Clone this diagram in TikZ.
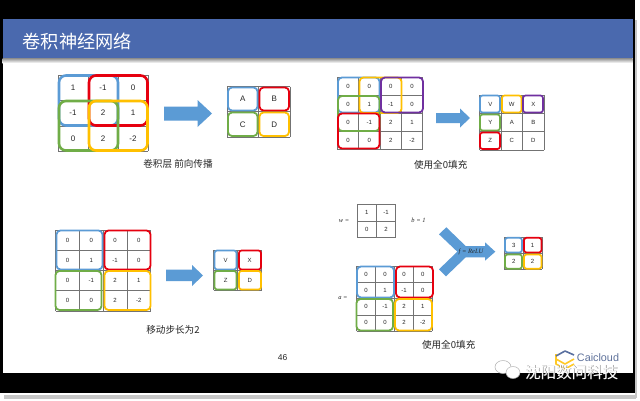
\documentclass[tikz,border=0pt]{standalone}
\usepackage{fontspec}
\setmainfont{Liberation Sans}
\newfontfamily\cjk{Noto Sans CJK SC}
\newfontfamily\mathish{Liberation Serif}
\definecolor{mblue}{HTML}{5B9BD5}
\definecolor{mred}{HTML}{E6000F}
\definecolor{mgreen}{HTML}{70AD47}
\definecolor{myellow}{HTML}{FFC000}
\definecolor{mpurple}{HTML}{7030A0}
\definecolor{bar}{HTML}{4A69AE}
\definecolor{txt}{HTML}{262626}
\tikzset{
  gridline/.style={draw=black!55,line width=0.5pt},
  bigframe/.style={line width=2.6pt,rounded corners=7pt},
  midframe/.style={line width=1.8pt,rounded corners=4pt},
  smallframe/.style={line width=1.7pt,rounded corners=2.5pt},
  fatarrow/.style={fill=mblue,draw=none},
  cellA/.style={font=\fontsize{8}{8}\selectfont,text=txt,inner sep=0pt},
  cellB/.style={font=\fontsize{6}{6}\selectfont,text=txt,inner sep=0pt},
  caption/.style={font=\cjk\fontsize{9.6}{10}\selectfont,text=txt,inner sep=0pt},
  formula/.style={font=\mathish\itshape\fontsize{6.5}{7}\selectfont,text=txt,inner sep=0pt},
}
% \gridlines{x0}{y0}{cell w}{cell h}{cols}{rows}
\newcommand{\gridlines}[6]{%
  \foreach \ci in {0,...,#5} \draw[gridline] ({#1+\ci*#3},#2) -- ({#1+\ci*#3},{#2+#6*#4});
  \foreach \ri in {0,...,#6} \draw[gridline] (#1,{#2+\ri*#4}) -- ({#1+#5*#3},{#2+\ri*#4});
}
% \cellvals{style}{x0}{y0}{w}{h}{col/row/text list}
\newcommand{\cellvals}[6]{%
  \foreach \cc/\rr/\tt in {#6} \node[#1] at ({#2+(\cc+0.5)*#4},{#3+(\rr+0.5)*#5}) {\tt};
}
\begin{document}
\begin{tikzpicture}[x=1pt,y=-1pt]
\useasboundingbox (0,0) rectangle (640,400);
% slide and surround
\fill[white] (0,0) rectangle (640,400);
\fill[black] (0,0) rectangle (634.5,19);
\fill[black] (0,19) rectangle (2.5,393);
\fill[black] (632.5,19) rectangle (634.5,393);
\fill[black] (0,373) rectangle (634.5,393);
\fill[black!22] (4,395) rectangle (636,398.5);
\fill[black!22] (635,20) rectangle (636.5,398);
\fill[bar] (2.5,19) rectangle (632.5,58);
\shade[top color=black!45,bottom color=white] (2.5,58) rectangle (632.5,63);
\node[anchor=west,inner sep=0pt,text=white,font=\cjk\fontsize{18.2}{18}\selectfont] (title) at (22.5,41) {卷积神经网络};

% --- panel 1
\gridlines{58}{75}{30}{25.4}{3}{3}
\cellvals{cellA}{58}{75}{30}{25.4}{0/0/1,1/0/-1,2/0/0,0/1/-1,1/1/2,2/1/1,0/2/0,1/2/2,2/2/-2}
\draw[bigframe,draw=mblue] (59,75.5) rectangle (118,125.5);
\draw[bigframe,draw=mred] (89,75.5) rectangle (147.5,125.5);
\draw[bigframe,draw=mgreen] (59,101) rectangle (118,150.5);
\draw[bigframe,draw=myellow] (89,101) rectangle (147.5,150.5);
\fill[fatarrow] (164,106.5) -- (197.5,106.5) -- (197.5,100) -- (212,113.5) -- (197.5,127) -- (197.5,120.5) -- (164,120.5) -- cycle;
\gridlines{227}{86.5}{31.5}{25.2}{2}{2}
\cellvals{cellA}{227}{86.5}{31.5}{25.2}{0/0/A,1/0/B,0/1/C,1/1/D}
\draw[midframe,draw=mblue] (228,87.5) rectangle (257.5,110.5);
\draw[midframe,draw=mred] (259.5,87.5) rectangle (289,110.5);
\draw[midframe,draw=mgreen] (228,112.5) rectangle (257.5,136);
\draw[midframe,draw=myellow] (259.5,112.5) rectangle (289,136);
\node[caption] (cap1) at (178,164) {卷积层 前向传播};

% --- panel 2
\gridlines{337.3}{77}{21.35}{18}{4}{4}
\cellvals{cellB}{337.3}{77}{21.35}{18}{0/0/0,1/0/0,2/0/0,3/0/0,0/1/0,1/1/1,2/1/-1,3/1/0,0/2/0,1/2/-1,2/2/2,3/2/1,0/3/0,1/3/0,2/3/2,3/3/-2}
\draw[midframe,draw=mblue] (338,77.5) rectangle (379.5,112.5);
\draw[midframe,draw=myellow] (359.5,77.5) rectangle (401.5,113);
\draw[midframe,draw=mgreen] (338,96) rectangle (379.5,131);
\draw[midframe,draw=mpurple] (381,77.5) rectangle (423,112.5);
\draw[midframe,draw=mred] (338,113.5) rectangle (379.5,148.5);
\fill[fatarrow] (436,113) -- (460,113) -- (460,108.5) -- (470,118) -- (460,127.5) -- (460,123) -- (436,123) -- cycle;
\gridlines{479.5}{95}{21.5}{18.35}{3}{3}
\cellvals{cellB}{479.5}{95}{21.5}{18.35}{0/0/V,1/0/W,2/0/X,0/1/Y,1/1/A,2/1/B,0/2/Z,1/2/C,2/2/D}
\draw[smallframe,draw=mblue] (480,95.5) rectangle (500,112.5);
\draw[smallframe,draw=myellow] (502,95.5) rectangle (521.5,112.5);
\draw[smallframe,draw=mpurple] (523,95.5) rectangle (543,112.5);
\draw[smallframe,draw=mgreen] (480,114.5) rectangle (500,130.5);
\draw[smallframe,draw=mred] (480,132.5) rectangle (500,149);
\node[caption] (cap2) at (440.7,164.5) {使用全0填充};

% --- panel 3
\gridlines{55.7}{230}{23.75}{20.2}{4}{4}
\cellvals{cellB}{55.7}{230}{23.75}{20.2}{0/0/0,1/0/0,2/0/0,3/0/0,0/1/0,1/1/1,2/1/-1,3/1/0,0/2/0,1/2/-1,2/2/2,3/2/1,0/3/0,1/3/0,2/3/2,3/3/-2}
\draw[midframe,draw=mblue] (56.5,230.5) rectangle (102.5,269.5);
\draw[midframe,draw=mred] (104.5,230.5) rectangle (150.5,269.5);
\draw[midframe,draw=mgreen] (55.5,271) rectangle (101.5,310);
\draw[midframe,draw=myellow] (104.5,271) rectangle (150.5,310);
\fill[fatarrow] (166,269.7) -- (192,269.7) -- (192,265) -- (203,275.5) -- (192,286) -- (192,281) -- (166,281) -- cycle;
\gridlines{213.7}{250}{24}{20}{2}{2}
\cellvals{cellB}{213.7}{250}{24}{20}{0/0/V,1/0/X,0/1/Z,1/1/D}
\draw[smallframe,draw=mblue] (214.5,250.5) rectangle (236.5,269.5);
\draw[smallframe,draw=mred] (239,250.5) rectangle (261,269.5);
\draw[smallframe,draw=mgreen] (214.5,271) rectangle (236.5,289.5);
\draw[smallframe,draw=myellow] (239,271) rectangle (261,289.5);
\node[caption] (cap3) at (173,330) {移动步长为2};
\node[inner sep=0pt,text=txt,font=\fontsize{8.5}{9}\selectfont] (page) at (282.5,358) {46};

% --- panel 4
\node[formula] (wlab) at (344,221) {w =};
\gridlines{357.3}{204.7}{19.2}{16.3}{2}{2}
\cellvals{cellB}{357.3}{204.7}{19.2}{16.3}{0/0/1,1/0/-1,0/1/0,1/1/2}
\node[formula] (blab) at (418.5,220.5) {b = 1};
\fill[fatarrow] (439,234.3) -- (446.3,227.3) -- (465.7,246) -- (485,246) -- (485,242.3) -- (495.3,251.7) -- (485,260.7) -- (485,257.3) -- (465.7,257.3) -- (446,276.3) -- (439,269.3) -- (457.3,251.7) -- cycle;
\node[formula] (relu) at (471,252) {f = ReLU};
\node[formula] (alab) at (343,298) {a =};
\gridlines{356.7}{266}{18.9}{16.25}{4}{4}
\cellvals{cellB}{356.7}{266}{18.9}{16.25}{0/0/0,1/0/0,2/0/0,3/0/0,0/1/0,1/1/1,2/1/-1,3/1/0,0/2/0,1/2/-1,2/2/2,3/2/1,0/3/0,1/3/0,2/3/2,3/3/-2}
\draw[midframe,draw=mblue] (357,266.5) rectangle (394,297.5);
\draw[midframe,draw=mred] (396,266.5) rectangle (433,297.5);
\draw[midframe,draw=mgreen] (356.5,299) rectangle (393,330.5);
\draw[midframe,draw=myellow] (395,299) rectangle (432,330.5);
\gridlines{504.3}{237.3}{18.85}{15.85}{2}{2}
\cellvals{cellB}{504.3}{237.3}{18.85}{15.85}{0/0/3,1/0/1,0/1/2,1/1/2}
\draw[smallframe,draw=mblue] (505,237.8) rectangle (522,252.5);
\draw[smallframe,draw=mred] (524,237.8) rectangle (541.5,252.5);
\draw[smallframe,draw=mgreen] (505,254.5) rectangle (522,268.7);
\draw[smallframe,draw=myellow] (524,254.5) rectangle (541.5,268.7);
\node[caption] (cap4) at (448.7,345) {使用全0填充};

% --- watermark
\draw[myellow!85,line width=1.6pt,line join=round] (556,354) -- (556,364) -- (565,369) -- (574,364) (556,359) -- (565,364) -- (574,359);
\draw[bar!70!gray,line width=1.6pt,line join=round] (556,356) -- (565,351) -- (574,355);
\node[inner sep=0pt,text=bar!60!gray,font=\fontsize{10.8}{11}\selectfont] (logo) at (598,358) {Caicloud};
\draw[black!30,fill=white,line width=0.5pt] (503,367) ellipse (8 and 6.5);
\draw[black!30,fill=white,line width=0.5pt] (513,372.5) ellipse (7 and 6);
\node[inner sep=0pt,text=black!55,font=\cjk\fontsize{15.5}{16}\selectfont] at (572.2,373) {沈阳数问科技};
\node[inner sep=0pt,text=white,font=\cjk\fontsize{15.5}{16}\selectfont] (mark) at (571.5,372.5) {沈阳数问科技};
\end{tikzpicture}
\end{document}
